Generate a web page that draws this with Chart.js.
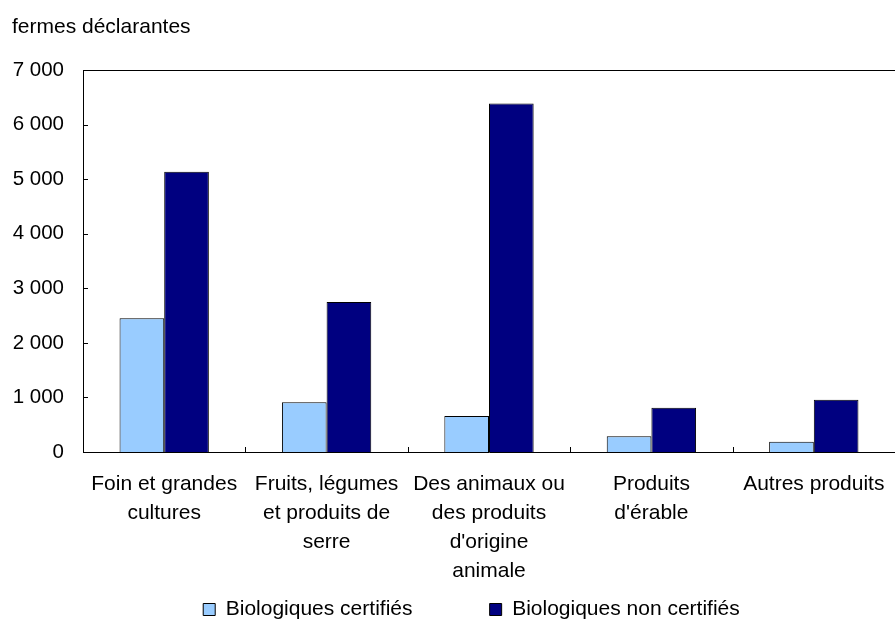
<!DOCTYPE html>
<html lang="fr">
<head>
<meta charset="utf-8">
<title>Fermes déclarantes</title>
<script src="https://cdn.jsdelivr.net/npm/chart.js@4.4.1/dist/chart.umd.min.js"></script>
<style>
  html, body { margin: 0; padding: 0; background: #fff; }
  #wrap { width: 895px; height: 622px; }
</style>
</head>
<body>
<div id="wrap"><canvas id="farms-chart"></canvas></div>
<script>
const categories = [
  ['Foin et grandes', 'cultures'],
  ['Fruits, légumes', 'et produits de', 'serre'],
  ['Des animaux ou', 'des produits', "d'origine", 'animale'],
  ['Produits', "d'érable"],
  ['Autres produits'],
];
const certifiedLabel = 'Biologiques certifiés';
const nonCertifiedLabel = 'Biologiques non certifiés';
const certified = [2450, 910, 660, 290, 190];
const nonCertified = [5140, 2750, 6390, 810, 960];
const yMin = 0;
const yMax = 7000;
const yStep = 1000;
const unitLabel = 'fermes déclarantes';

Chart.defaults.color = '#000';
Chart.defaults.font.family = "'Liberation Sans', Arial, sans-serif";
Chart.defaults.font.size = 21;

// top line of the frame plus the small inward tick marks
const chartAreaBorder = {
  id: 'chartAreaBorder',
  afterDraw(chart, args, options) {
    const {
      ctx,
      chartArea: { left, top, right, bottom },
      scales: { x, y },
    } = chart;
    ctx.save();
    ctx.strokeStyle = options.borderColor;
    ctx.lineWidth = options.borderWidth;
    ctx.beginPath();
    ctx.moveTo(left, Math.round(top) + 0.5);
    ctx.lineTo(right, Math.round(top) + 0.5);
    y.ticks.forEach((tick, i) => {
      const py = Math.round(y.getPixelForTick(i)) + 0.5;
      ctx.moveTo(left, py);
      ctx.lineTo(left + options.tickLength, py);
    });
    const step = (right - left) / x.ticks.length;
    for (let i = 1; i < x.ticks.length; i++) {
      const px = Math.round(left + step * i) + 0.5;
      ctx.moveTo(px, bottom);
      ctx.lineTo(px, bottom - options.tickLength);
    }
    ctx.stroke();
    ctx.restore();
  },
};

const farmsConfig = {
  type: 'bar',
  data: {
    labels: categories,
    datasets: [
      {
        label: certifiedLabel,
        data: certified,
        backgroundColor: '#99ccff',
        borderColor: '#000',
        borderWidth: 1,
        categoryPercentage: 0.55,
        barPercentage: 1,
      },
      {
        label: nonCertifiedLabel,
        data: nonCertified,
        backgroundColor: '#000080',
        borderColor: '#000',
        borderWidth: 1,
        categoryPercentage: 0.55,
        barPercentage: 1,
      },
    ],
  },
  options: {
    responsive: true,
    maintainAspectRatio: false,
    animation: false,
    layout: {
      padding: { left: 12, right: 0, top: 0, bottom: 0 },
    },
    plugins: {
      chartAreaBorder: {
        borderColor: '#000',
        borderWidth: 1,
        tickLength: 5,
      },
      title: {
        display: true,
        text: unitLabel,
        align: 'start',
        color: '#000',
        font: { size: 21, weight: 'normal' },
        padding: { top: 14.5, bottom: 30.5 },
      },
      legend: {
        position: 'bottom',
        fullSize: false,
        maxHeight: 36,
        labels: {
          boxWidth: 12,
          boxHeight: 12,
          padding: 13,
          font: { size: 21 },
          generateLabels(chart) {
            const items = Chart.defaults.plugins.legend.labels.generateLabels(chart);
            return items.map((item, i) => ({
              ...item,
              text: item.text + ' '.repeat(i === 0 ? 11 : 6),
            }));
          },
        },
      },
      tooltip: {
        enabled: false,
      },
    },
    scales: {
      x: {
        grid: {
          display: true,
          drawOnChartArea: false,
          drawTicks: true,
          tickLength: 17,
          tickColor: 'transparent',
        },
        border: {
          color: '#000',
          width: 1,
        },
        ticks: {
          padding: 0.5,
          maxRotation: 0,
          autoSkip: false,
          font: { size: 21, lineHeight: '29px' },
        },
      },
      y: {
        min: yMin,
        max: yMax,
        grid: {
          display: false,
          drawTicks: false,
        },
        border: {
          color: '#000',
          width: 1,
        },
        ticks: {
          stepSize: yStep,
          padding: 19,
          font: { size: 20.5 },
          callback: (value) => String(value).replace(/\B(?=(\d{3})+(?!\d))/g, ' '),
        },
        afterFit(scale) {
          scale.width = 71;
        },
      },
    },
  },
  plugins: [chartAreaBorder],
};

const ctxFarms = document.getElementById('farms-chart').getContext('2d');
const farmsChart = new Chart(ctxFarms, farmsConfig);
</script>
</body>
</html>
